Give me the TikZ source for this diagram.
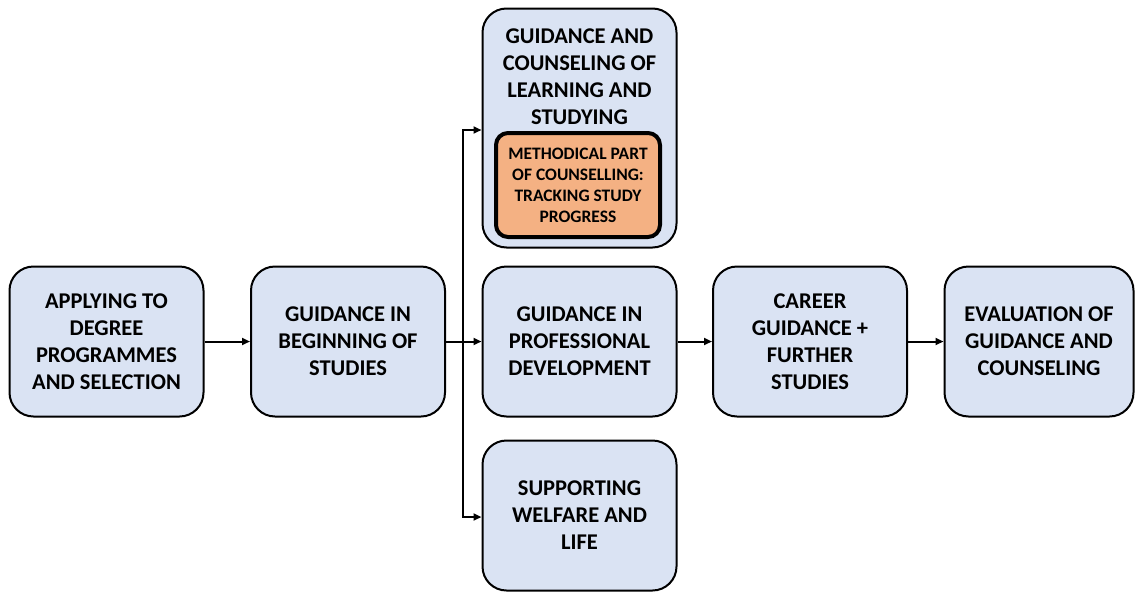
\documentclass[tikz,border=0pt]{standalone}
\usepackage{fontspec}
\setmainfont{Carlito}
\usetikzlibrary{arrows.meta,calc}
\definecolor{boxblue}{HTML}{DAE3F3}
\definecolor{boxorange}{HTML}{F4B183}
\tikzset{
  stage/.style={draw=black, line width=2pt, fill=boxblue, rounded corners=24pt,
    minimum width=194pt, minimum height=150pt, align=center,
    font=\bfseries\fontsize{22.5}{27}\selectfont, inner sep=0pt},
  title/.style={align=center, font=\bfseries\fontsize{22.5}{27}\selectfont, inner sep=0pt},
  inner/.style={draw=black, line width=4pt, fill=boxorange, rounded corners=12pt,
    minimum width=164pt, minimum height=104pt, align=center,
    font=\bfseries\fontsize{17.5}{21}\selectfont, inner sep=0pt},
  arr/.style={line width=2pt, -{Triangle[length=8pt,width=7pt]}}
}
\begin{document}
\begin{tikzpicture}[x=1pt,y=-1pt]
\useasboundingbox (0,0) rectangle (1135,592);
\node[stage] (b1) at (106.5,341.5) {APPLYING TO\\DEGREE\\PROGRAMMES\\AND SELECTION};
\node[stage] (b2) at (348,341.5) {GUIDANCE IN\\BEGINNING OF\\STUDIES};
\node[stage, minimum height=239pt] (top) at (579.5,128) {};
\node[title] (toptext) at (579.5,77) {GUIDANCE AND\\COUNSELING OF\\LEARNING AND\\STUDYING};
\node[inner] (meth) at (578,185) {METHODICAL PART\\OF COUNSELLING:\\TRACKING STUDY\\PROGRESS};
\node[stage] (mid) at (579.5,341.5) {GUIDANCE IN\\PROFESSIONAL\\DEVELOPMENT};
\node[stage] (bot) at (579.5,515.5) {SUPPORTING\\WELFARE AND\\LIFE};
\node[stage] (car) at (810,341.5) {CAREER\\GUIDANCE +\\FURTHER\\STUDIES};
\node[stage, minimum width=189pt] (eva) at (1039,341.5) {EVALUATION OF\\GUIDANCE AND\\COUNSELING};
\coordinate (br) at (463,341.5);
\draw[arr] (b1.east) -- (b2.west);
\draw[arr] (b2.east) -- (mid.west);
\draw[arr] (br) |- ($(top.west)+(0,2)$);
\draw[arr] (br) |- ($(bot.west)+(0,1.5)$);
\draw[arr] (mid.east) -- (car.west);
\draw[arr] (car.east) -- (eva.west);
\end{tikzpicture}
\end{document}
